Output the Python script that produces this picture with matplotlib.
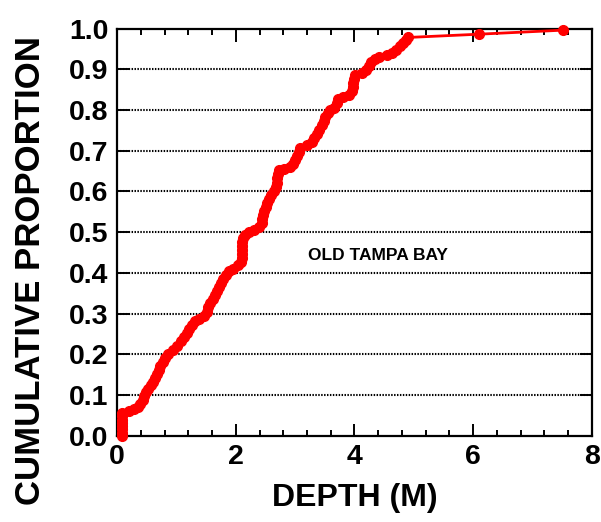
import matplotlib.pyplot as plt
from matplotlib.ticker import MultipleLocator

plt.rcParams['font.family'] = ['Liberation Sans', 'DejaVu Sans']
plt.rcParams['font.weight'] = 'bold'

# 深度 (m) 与累计比例
depth = [0.08, 0.08, 0.08, 0.08, 0.08, 0.08, 0.08, 0.08,
         0.20, 0.29, 0.35, 0.39, 0.43, 0.46, 0.49, 0.52, 0.57, 0.61,
         0.64, 0.67, 0.70, 0.73, 0.77, 0.81, 0.86, 0.94, 1.01, 1.07,
         1.13, 1.18, 1.22, 1.26, 1.31, 1.38, 1.47, 1.52, 1.53, 1.57,
         1.62, 1.65, 1.68, 1.71, 1.75, 1.79, 1.83, 1.88, 1.96, 2.03,
         2.08, 2.10, 2.11, 2.11, 2.11, 2.11, 2.12, 2.16, 2.22, 2.31,
         2.39, 2.44, 2.45, 2.46, 2.48, 2.51, 2.53, 2.56, 2.60, 2.64,
         2.67, 2.69, 2.70, 2.71, 2.73, 2.82, 2.91, 2.97, 3.00, 3.03,
         3.06, 3.09, 3.20, 3.28, 3.32, 3.36, 3.41, 3.46, 3.49, 3.51,
         3.55, 3.59, 3.66, 3.70, 3.73, 3.80, 3.90, 3.96, 3.97, 3.98,
         3.99, 4.01, 4.12, 4.20, 4.24, 4.28, 4.34, 4.42, 4.55, 4.63,
         4.70, 4.76, 4.81, 4.86, 4.90, 6.09, 7.52]
prop = [0.000, 0.008, 0.016, 0.024, 0.032, 0.040, 0.048, 0.056,
        0.062, 0.066, 0.072, 0.078, 0.088, 0.098, 0.108, 0.116, 0.124, 0.132,
        0.142, 0.152, 0.162, 0.172, 0.182, 0.192, 0.202, 0.212, 0.222, 0.232,
        0.242, 0.252, 0.262, 0.272, 0.282, 0.288, 0.294, 0.304, 0.316, 0.326,
        0.336, 0.346, 0.356, 0.366, 0.376, 0.386, 0.396, 0.404, 0.410, 0.420,
        0.428, 0.436, 0.446, 0.456, 0.466, 0.476, 0.486, 0.494, 0.500, 0.506,
        0.514, 0.522, 0.532, 0.542, 0.552, 0.562, 0.572, 0.582, 0.592, 0.602,
        0.612, 0.622, 0.632, 0.642, 0.652, 0.656, 0.661, 0.668, 0.678, 0.688,
        0.698, 0.706, 0.714, 0.722, 0.732, 0.742, 0.752, 0.762, 0.772, 0.782,
        0.792, 0.800, 0.806, 0.816, 0.826, 0.832, 0.838, 0.846, 0.856, 0.866,
        0.876, 0.886, 0.890, 0.898, 0.908, 0.918, 0.926, 0.930, 0.934, 0.940,
        0.948, 0.956, 0.964, 0.972, 0.978, 0.986, 0.996]

site_name = 'OLD TAMPA BAY'
x_ticks = [0, 2, 4, 6, 8]
y_ticks = [i / 10 for i in range(11)]


def draw_cdf():
    fig = plt.figure(figsize=(6.01, 5.22), dpi=100)
    ax = fig.add_axes([0.1947, 0.1648, 0.7903, 0.7806])

    # 横向网格线 (点线)
    for y in y_ticks[1:-1]:
        ax.axhline(y, color='black', linewidth=1.5, linestyle=(0, (0.7, 0.7)), zorder=1)

    ax.plot(depth, prop, color='#ff0000', linewidth=2, marker='o',
            markersize=7, markeredgecolor='#ff0000', zorder=3, clip_on=False)

    ax.set_xlim(0, 8)
    ax.set_ylim(0, 1.0)
    ax.set_xticks(x_ticks)
    ax.set_yticks(y_ticks)
    ax.set_yticklabels(['%.1f' % v for v in y_ticks])
    ax.xaxis.set_minor_locator(MultipleLocator(0.4))

    ax.tick_params(axis='both', which='major', direction='in', length=9,
                   width=1.4, labelsize=20.5, top=True, right=True, pad=6)
    ax.tick_params(axis='x', which='minor', direction='in', length=4.5,
                   width=1.4, top=True)
    for s in ax.spines.values():
        s.set_linewidth(1.6)

    ax.set_xlabel('DEPTH (M)', fontsize=23, fontweight='bold', labelpad=9)
    ax.set_ylabel('CUMULATIVE PROPORTION', fontsize=25, fontweight='bold')
    # y轴标题稍微往下放
    ax.yaxis.set_label_coords(-0.147, 0.405)

    ax.text(4.39, 0.442, site_name, fontsize=12.5, fontweight='bold',
            ha='center', va='center')

    fig.savefig('out.png', dpi=100)


if __name__ == '__main__':
    draw_cdf()
